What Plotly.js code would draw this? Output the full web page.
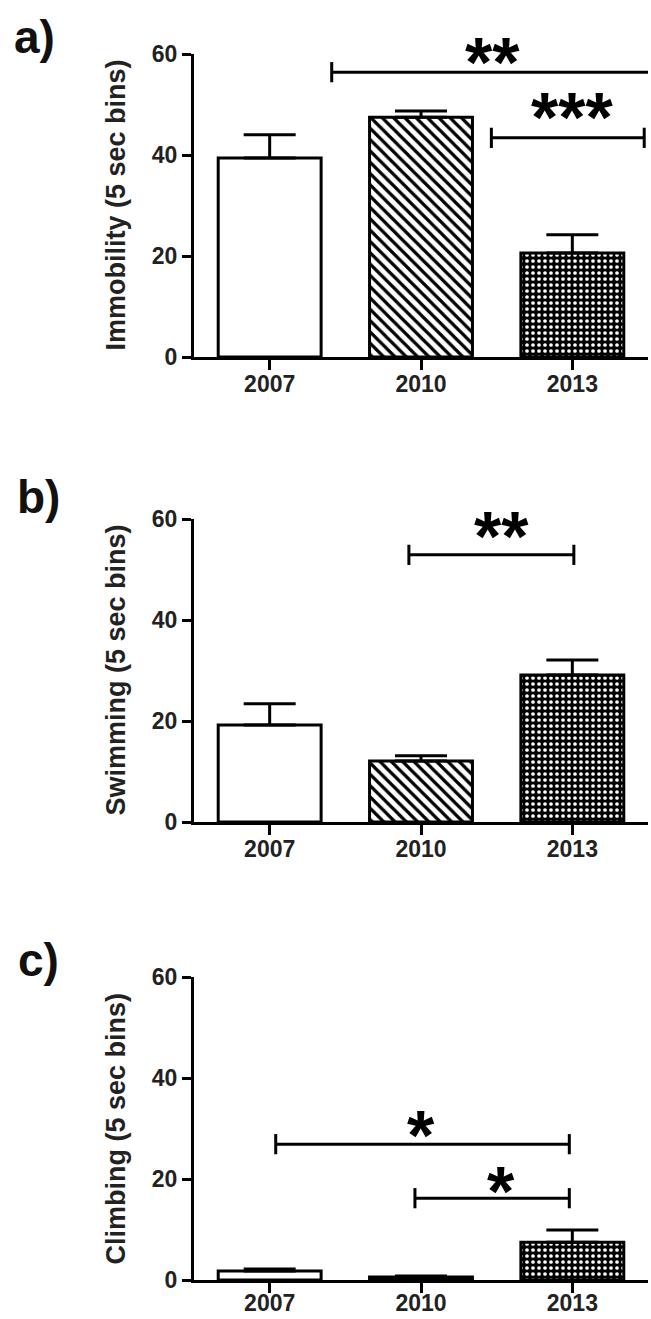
<!DOCTYPE html>
<html><head><meta charset="utf-8">
<script src="https://cdn.plot.ly/plotly-3.0.1.min.js"></script>
<style>html,body{margin:0;padding:0;background:#fff}</style>
</head><body>
<div id="chart" style="width:651px;height:1319px"></div>
<script>
// ---- data ----
const years = ['2007', '2010', '2013'];
const immobility = [39.4, 47.5, 20.6];
const immobilityErr = [4.6, 1.2, 3.6];
const swimming = [19.2, 12.1, 29.1];
const swimmingErr = [4.2, 1.0, 3.0];
const climbing = [1.8, 0.6, 7.5];
const climbingErr = [0.4, 0.2, 2.4];
const yTickVals = [0, 20, 40, 60];
const panelLabels = ['a)', 'b)', 'c)'];
const yTitles = ['Immobility (5 sec bins)', 'Swimming (5 sec bins)', 'Climbing (5 sec bins)'];
// significance brackets per panel
const sigFrom = [[0.41, 1.465], [0.92], [0.04, 0.96]];
const sigTo = [[2.62, 2.475], [2.01], [1.98, 1.98]];
const sigLevel = [[56.4, 43.4], [52.9], [26.9, 16.2]];
const sigText = [['**', '***'], ['**'], ['*', '*']];
const sigStarX = [[1.47, 2.0], [1.53], [1.0, 1.53]];

// ---- styling / geometry ----
const W = 651, H = 1319;
const FONT = 'Liberation Sans, Arial, sans-serif';
const xDomain = [194 / W, 648 / W];
const panelTopPx = [54, 519, 977];
const panelBotPx = [357, 822, 1280];
const labelPx = [[34, 37], [38, 497], [38, 960]];
const titleXPx = 115;
const xLabelStandoff = [-6, -6, -10];
const starLiftPx = [[19, 30], [28], [18, 16]];  // star ink centre above bracket line
const barStyles = [
  {shape: '', fg: '#000', bg: '#fff', size: 8, solidity: 0.3},
  {shape: '\\', fg: '#000', bg: '#fff', size: 8, solidity: 0.4},
  {shape: '.', fg: '#fff', bg: '#000', size: 6, solidity: 0.3}
];

const values = [immobility, swimming, climbing];
const errs = [immobilityErr, swimmingErr, climbingErr];

const traces = [];
const layout = {
  width: W, height: H,
  margin: {l: 0, r: 0, t: 0, b: 0},
  paper_bgcolor: '#fff', plot_bgcolor: 'rgba(0,0,0,0)',
  showlegend: false, barmode: 'overlay',
  font: {family: FONT, color: '#000'},
  annotations: []
};

for (let p = 0; p < 3; p++) {
  const xa = p === 0 ? 'x' : 'x' + (p + 1);
  const ya = p === 0 ? 'y' : 'y' + (p + 1);
  for (let i = 0; i < years.length; i++) {
    const st = barStyles[i];
    const marker = {color: st.bg, line: {color: '#000', width: 3}};
    if (st.shape) {
      marker.pattern = {shape: st.shape, fgcolor: st.fg, bgcolor: st.bg,
        size: st.size, solidity: st.solidity, fillmode: 'replace'};
    }
    traces.push({
      type: 'bar', x: [i], y: [values[p][i]], xaxis: xa, yaxis: ya,
      width: 0.68, opacity: 1, marker: marker, name: years[i],
      error_y: {type: 'data', symmetric: false, array: [errs[p][i]], arrayminus: [0],
        color: '#000', thickness: 3, width: 26},
      hoverinfo: 'skip'
    });
  }
  for (let k = 0; k < sigFrom[p].length; k++) {
    const a = sigFrom[p][k], b = sigTo[p][k], yv = sigLevel[p][k];
    traces.push({
      type: 'scatter', mode: 'lines', xaxis: xa, yaxis: ya, cliponaxis: false,
      x: [a, a, null, a, b, null, b, b],
      y: [yv - 2, yv + 2, null, yv, yv, null, yv - 2, yv + 2],
      line: {color: '#000', width: 3}, hoverinfo: 'skip'
    });
    layout.annotations.push({
      xref: xa, yref: ya, x: sigStarX[p][k], y: yv,
      text: sigText[p][k], showarrow: false, xanchor: 'center', yanchor: 'middle',
      yshift: starLiftPx[p][k] - 10,
      font: {size: 70, weight: 700, family: FONT, color: '#000'}
    });
  }
  const dom = [1 - panelBotPx[p] / H, 1 - panelTopPx[p] / H];
  layout[p === 0 ? 'xaxis' : 'xaxis' + (p + 1)] = {
    domain: xDomain, anchor: ya, range: [-0.5, 2.5],
    tickvals: [0, 1, 2], ticktext: years, ticks: 'outside', ticklen: 10, tickwidth: 3, tickcolor: '#000',
    ticklabelstandoff: xLabelStandoff[p],
    showline: true, linewidth: 3, linecolor: '#000', showgrid: false, zeroline: false,
    tickfont: {size: 23, weight: 700, family: FONT, color: '#222'},
    fixedrange: true
  };
  layout[p === 0 ? 'yaxis' : 'yaxis' + (p + 1)] = {
    domain: dom, anchor: xa, range: [0, 60],
    tickvals: yTickVals, ticks: 'outside', ticklen: 9, tickwidth: 3, tickcolor: '#000',
    showline: true, linewidth: 3, linecolor: '#000', showgrid: false, zeroline: false,
    tickfont: {size: 23, weight: 700, family: FONT, color: '#222'},
    fixedrange: true
  };
  layout.annotations.push({
    xref: 'paper', yref: 'paper', x: titleXPx / W, y: 1 - (panelTopPx[p] + panelBotPx[p]) / 2 / H,
    text: yTitles[p], textangle: -90, showarrow: false, xanchor: 'center', yanchor: 'middle',
    font: {size: 27, weight: 700, family: FONT, color: '#222'}
  });
  layout.annotations.push({
    xref: 'paper', yref: 'paper', x: labelPx[p][0] / W, y: 1 - labelPx[p][1] / H,
    text: panelLabels[p], showarrow: false, xanchor: 'center', yanchor: 'middle',
    font: {size: 46, weight: 700, family: FONT, color: '#111'}
  });
}

Plotly.newPlot('chart', traces, layout, {staticPlot: true});
</script>
</body></html>
